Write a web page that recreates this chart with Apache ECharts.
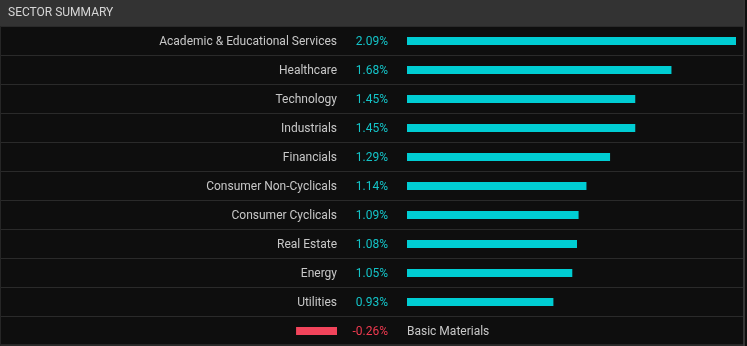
<!DOCTYPE html>
<html>
<head>
<meta charset="utf-8">
<script src="https://cdn.jsdelivr.net/npm/echarts@6/dist/echarts.min.js"></script>
<style>
  html, body { margin: 0; padding: 0; background: #0e0e0e; }
  #chart { width: 747px; height: 346px; }
</style>
</head>
<body>
<div id="chart"></div>
<script>
// Sector performance, daily change in percent
const sectors = [
  'Academic & Educational Services',
  'Healthcare',
  'Technology',
  'Industrials',
  'Financials',
  'Consumer Non-Cyclicals',
  'Consumer Cyclicals',
  'Real Estate',
  'Energy',
  'Utilities',
  'Basic Materials'
];
const changes = [2.09, 1.68, 1.45, 1.45, 1.29, 1.14, 1.09, 1.08, 1.05, 0.93, -0.26];

const UP = '#00cdd3';
const UP_TEXT = '#14c4c8';
const DOWN = '#f2445b';
const DOWN_TEXT = '#f03a50';
const TEXT = '#c8c8c8';
const FONT = 'Roboto, "Liberation Sans", sans-serif';

const maxAbs = Math.max.apply(null, changes.map(Math.abs));
const pct = v => v.toFixed(2) + '%';

const positives = changes.map(v => (v >= 0 ? v : '-'));
const negatives = changes.map(v => (v < 0 ? v : '-'));

const ROW_TOP = 26.5;
const ROW_H = 29 * sectors.length;

const chart = echarts.init(document.getElementById('chart'), null, { renderer: 'canvas' });

chart.setOption({
  backgroundColor: '#0e0e0e',
  animation: false,
  title: {
    text: 'SECTOR SUMMARY',
    left: 3,
    top: 2,
    textStyle: { color: '#d6d6d6', fontSize: 12, fontWeight: 'normal', fontFamily: FONT }
  },
  graphic: [
    { type: 'rect', z: -10, shape: { x: 0, y: 0, width: 743, height: 26 }, style: { fill: '#333333' } },
    { type: 'rect', z: -10, shape: { x: 0, y: 26, width: 1, height: 320 }, style: { fill: '#262626' } },
    { type: 'rect', z: -10, shape: { x: 743, y: 0, width: 2, height: 346 }, style: { fill: '#363636' } },
    { type: 'rect', z: -10, shape: { x: 0, y: 344, width: 743, height: 1 }, style: { fill: '#262626' } }
  ],
  grid: [
    // row separators across the full table width
    { left: 1, width: 742, top: 26, height: ROW_H },
    // positive bars, growing right from the bar column
    { left: 407, width: 329, top: ROW_TOP, height: ROW_H },
    // negative bars, growing left from the label column edge
    { left: 8, width: 329, top: ROW_TOP, height: ROW_H }
  ],
  xAxis: [
    { gridIndex: 0, type: 'value', show: false, min: 0, max: 1 },
    { gridIndex: 1, type: 'value', show: false, min: 0, max: maxAbs },
    { gridIndex: 2, type: 'value', show: false, min: -maxAbs, max: 0 }
  ],
  yAxis: [
    {
      gridIndex: 0, type: 'category', data: sectors, inverse: true,
      axisLine: { show: false }, axisTick: { show: false }, axisLabel: { show: false },
      splitLine: { show: true, lineStyle: { color: '#2a2a2a', width: 1 } }
    },
    {
      gridIndex: 1, type: 'category', data: sectors, inverse: true,
      axisLine: { show: false }, axisTick: { show: false }, axisLabel: { show: false }
    },
    {
      gridIndex: 2, type: 'category', data: sectors, inverse: true,
      axisLine: { show: false }, axisTick: { show: false }, axisLabel: { show: false }
    }
  ],
  series: [
    {
      type: 'bar', xAxisIndex: 1, yAxisIndex: 1,
      data: positives, barWidth: 8,
      itemStyle: { color: UP },
      label: {
        show: true, position: 'left', distance: 19, offset: [0, 1],
        formatter: p => '{n|' + p.name + '}{v|' + pct(p.value) + '}',
        rich: {
          n: { color: TEXT, fontSize: 12, fontFamily: FONT },
          v: { color: UP_TEXT, fontSize: 12, fontFamily: FONT, width: 51, align: 'right' }
        }
      }
    },
    {
      type: 'bar', xAxisIndex: 2, yAxisIndex: 2,
      data: negatives, barWidth: 8,
      itemStyle: { color: DOWN },
      label: {
        show: true, position: 'right', distance: 0, offset: [0, 1],
        formatter: p => '{v|' + pct(p.value) + '}{n|' + p.name + '}',
        rich: {
          v: { color: DOWN_TEXT, fontSize: 12, fontFamily: FONT, width: 51, align: 'right' },
          n: { color: TEXT, fontSize: 12, fontFamily: FONT, align: 'right', padding: [0, 0, 0, 19] }
        }
      }
    }
  ]
});
</script>
</body>
</html>
